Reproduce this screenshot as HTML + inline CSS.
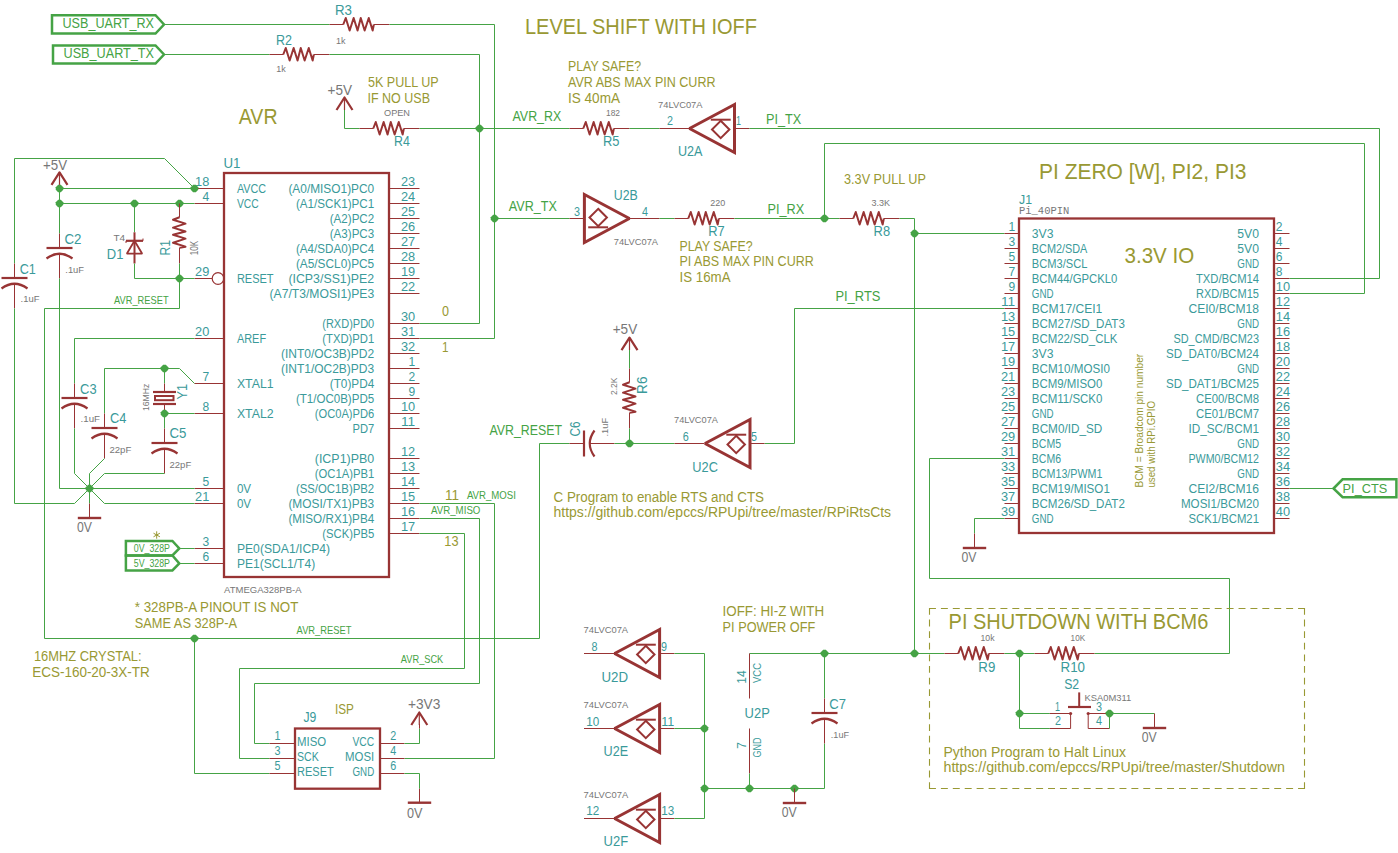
<!DOCTYPE html>
<html><head><meta charset="utf-8"><style>
html,body{margin:0;padding:0;background:#fff;overflow:hidden}
svg{display:block}
text{font-family:"Liberation Sans",sans-serif}
</style></head><body>
<svg width="1398" height="853" viewBox="0 0 1398 853">
<rect width="1398" height="853" fill="#fff"/>
<path d="M52,15.25 L155.5,15.25 L164,24.5 L155.5,33.5 L52,33.5 Z" stroke="#45a345" stroke-width="2.5" fill="none" stroke-linejoin="miter"/>
<path d="M53,45.5 L155.5,45.5 L164,54.5 L155.5,63.5 L53,63.5 Z" stroke="#45a345" stroke-width="2.5" fill="none" stroke-linejoin="miter"/>
<text x="62.50" y="28.00" font-size="14.53" fill="#45a345" textLength="91.50" lengthAdjust="spacingAndGlyphs">USB_UART_RX</text>
<text x="63.50" y="58.00" font-size="14.53" fill="#45a345" textLength="90.50" lengthAdjust="spacingAndGlyphs">USB_UART_TX</text>
<path d="M164,24.5 L329.5,24.5" stroke="#45a345" stroke-width="1.0" fill="none" stroke-linejoin="round"/>
<path d="M329.5,24.5 L343.5,24.5" stroke="#983434" stroke-width="1.0" fill="none" stroke-linejoin="round"/>
<path d="M343.25,24.5 L345.75,18.0 L349.65,30.5 L353.65,18.0 L357.55,30.5 L360.75,18.0 L364.65,30.5 L368.75,18.0 L372.65,30.5 L373.85,24.5" stroke="#983434" stroke-width="2" fill="none" stroke-linejoin="round"/>
<path d="M373.9,24.5 L389.5,24.5" stroke="#983434" stroke-width="1.0" fill="none" stroke-linejoin="round"/>
<path d="M389.5,24.5 L494.5,24.5 L494.5,338.5 L419.5,338.5" stroke="#45a345" stroke-width="1.0" fill="none" stroke-linejoin="round"/>
<path d="M164,54.5 L269.5,54.5" stroke="#45a345" stroke-width="1.0" fill="none" stroke-linejoin="round"/>
<path d="M269.5,54.5 L283.5,54.5" stroke="#983434" stroke-width="1.0" fill="none" stroke-linejoin="round"/>
<path d="M283.25,54.5 L285.75,48.0 L289.65,60.5 L293.65,48.0 L297.55,60.5 L300.75,48.0 L304.65,60.5 L308.75,48.0 L312.65,60.5 L313.85,54.5" stroke="#983434" stroke-width="2" fill="none" stroke-linejoin="round"/>
<path d="M313.9,54.5 L329.5,54.5" stroke="#983434" stroke-width="1.0" fill="none" stroke-linejoin="round"/>
<path d="M329.5,54.5 L479.5,54.5 L479.5,323.5 L419.5,323.5" stroke="#45a345" stroke-width="1.0" fill="none" stroke-linejoin="round"/>
<text x="335.00" y="15.00" font-size="14.53" fill="#3a9a9a" textLength="17.00" lengthAdjust="spacingAndGlyphs">R3</text>
<text x="336.00" y="43.50" font-size="9.88" fill="#777777" textLength="9.50" lengthAdjust="spacingAndGlyphs">1k</text>
<text x="276.00" y="44.75" font-size="14.53" fill="#3a9a9a" textLength="16.00" lengthAdjust="spacingAndGlyphs">R2</text>
<text x="276.25" y="72.00" font-size="9.88" fill="#777777" textLength="9.50" lengthAdjust="spacingAndGlyphs">1k</text>
<text x="238.75" y="123.75" font-size="22.53" fill="#999933" textLength="38.75" lengthAdjust="spacingAndGlyphs">AVR</text>
<text x="327.50" y="95.00" font-size="14.53" fill="#777777" textLength="24.50" lengthAdjust="spacingAndGlyphs">+5V</text>
<path d="M336.5,110.0 L344.5,97.5 L352.5,110.0" stroke="#983434" stroke-width="2.2" fill="none" stroke-linejoin="round"/>
<path d="M344.5,97.5 L344.5,110.0" stroke="#983434" stroke-width="1.2" fill="none" stroke-linejoin="round"/>
<path d="M344.5,110 L344.5,128.5 L359.5,128.5" stroke="#45a345" stroke-width="1.0" fill="none" stroke-linejoin="round"/>
<path d="M359.5,128.5 L373.5,128.5" stroke="#983434" stroke-width="1.0" fill="none" stroke-linejoin="round"/>
<path d="M373.25,128.5 L375.75,122.0 L379.65,134.5 L383.65,122.0 L387.55,134.5 L390.75,122.0 L394.65,134.5 L398.75,122.0 L402.65,134.5 L403.85,128.5" stroke="#983434" stroke-width="2" fill="none" stroke-linejoin="round"/>
<path d="M403.9,128.5 L419.5,128.5" stroke="#983434" stroke-width="1.0" fill="none" stroke-linejoin="round"/>
<path d="M419.5,128.5 L569.5,128.5" stroke="#45a345" stroke-width="1.0" fill="none" stroke-linejoin="round"/>
<path d="M478.15,124.75 L480.85,124.75 L483.25,127.15 L483.25,129.85 L480.85,132.25 L478.15,132.25 L475.75,129.85 L475.75,127.15 Z" fill="#45a345"/>
<text x="368.00" y="86.50" font-size="14.53" fill="#999933" textLength="70.75" lengthAdjust="spacingAndGlyphs">5K PULL UP</text>
<text x="367.50" y="102.50" font-size="14.53" fill="#999933" textLength="62.50" lengthAdjust="spacingAndGlyphs">IF NO USB</text>
<text x="384.00" y="115.50" font-size="9.88" fill="#777777" textLength="26.00" lengthAdjust="spacingAndGlyphs">OPEN</text>
<text x="394.00" y="146.25" font-size="14.53" fill="#3a9a9a" textLength="15.75" lengthAdjust="spacingAndGlyphs">R4</text>
<text x="512.50" y="121.25" font-size="14.53" fill="#45a345" textLength="48.75" lengthAdjust="spacingAndGlyphs">AVR_RX</text>
<path d="M569.5,128.5 L583.5,128.5" stroke="#983434" stroke-width="1.0" fill="none" stroke-linejoin="round"/>
<path d="M583.25,128.5 L585.75,122.0 L589.65,134.5 L593.65,122.0 L597.55,134.5 L600.75,122.0 L604.65,134.5 L608.75,122.0 L612.65,134.5 L613.85,128.5" stroke="#983434" stroke-width="2" fill="none" stroke-linejoin="round"/>
<path d="M613.9,128.5 L629.5,128.5" stroke="#983434" stroke-width="1.0" fill="none" stroke-linejoin="round"/>
<text x="606.00" y="115.50" font-size="9.88" fill="#777777" textLength="14.00" lengthAdjust="spacingAndGlyphs">182</text>
<text x="603.00" y="146.25" font-size="14.53" fill="#3a9a9a" textLength="16.50" lengthAdjust="spacingAndGlyphs">R5</text>
<text x="568.00" y="70.50" font-size="14.53" fill="#999933" textLength="73.00" lengthAdjust="spacingAndGlyphs">PLAY SAFE?</text>
<text x="568.00" y="86.50" font-size="14.53" fill="#999933" textLength="147.50" lengthAdjust="spacingAndGlyphs">AVR ABS MAX PIN CURR</text>
<text x="568.00" y="102.50" font-size="14.53" fill="#999933" textLength="52.00" lengthAdjust="spacingAndGlyphs">IS 40mA</text>
<text x="525.00" y="34.00" font-size="22.53" fill="#999933" textLength="232.00" lengthAdjust="spacingAndGlyphs">LEVEL SHIFT WITH IOFF</text>
<path d="M629.5,128.5 L659.5,128.5" stroke="#45a345" stroke-width="1.0" fill="none" stroke-linejoin="round"/>
<path d="M659.5,128.5 L689,128.5" stroke="#983434" stroke-width="1.0" fill="none" stroke-linejoin="round"/>
<path d="M734.5,104.5 L689.5,128.5 L734.5,152.5 Z" stroke="#983434" stroke-width="3" fill="none" stroke-linejoin="miter" stroke-miterlimit="2"/>
<path d="M720.7,120.8 L729.4000000000001,129.5 L720.7,138.2 L712.0,129.5 Z" stroke="#983434" stroke-width="2" fill="none"/>
<path d="M730.7,119.7 L710.8,119.7" stroke="#983434" stroke-width="2" fill="none" stroke-linejoin="round"/>
<path d="M720.7,120.8 L720.7,119.7" stroke="#983434" stroke-width="2" fill="none" stroke-linejoin="round"/>
<path d="M734.5,128.5 L749.5,128.5" stroke="#983434" stroke-width="1.0" fill="none" stroke-linejoin="round"/>
<path d="M749.5,128.5 L1379.5,128.5 L1379.5,278.5 L1289.5,278.5" stroke="#45a345" stroke-width="1.0" fill="none" stroke-linejoin="round"/>
<text x="667.00" y="125.00" font-size="13.08" fill="#3a9a9a" textLength="6.00" lengthAdjust="spacingAndGlyphs">2</text>
<text x="736.00" y="125.00" font-size="13.08" fill="#3a9a9a" textLength="5.00" lengthAdjust="spacingAndGlyphs">1</text>
<text x="658.00" y="108.00" font-size="9.88" fill="#777777" textLength="44.50" lengthAdjust="spacingAndGlyphs">74LVC07A</text>
<text x="678.00" y="156.00" font-size="14.10" fill="#3a9a9a" textLength="24.50" lengthAdjust="spacingAndGlyphs">U2A</text>
<text x="766.00" y="124.25" font-size="14.53" fill="#45a345" textLength="35.25" lengthAdjust="spacingAndGlyphs">PI_TX</text>
<path d="M824.5,218.5 L824.5,143.5 L1364.5,143.5 L1364.5,293.5 L1289.5,293.5" stroke="#45a345" stroke-width="1.0" fill="none" stroke-linejoin="round"/>
<path d="M494.5,218.5 L569.5,218.5" stroke="#45a345" stroke-width="1.0" fill="none" stroke-linejoin="round"/>
<path d="M493.15,214.75 L495.85,214.75 L498.25,217.15 L498.25,219.85 L495.85,222.25 L493.15,222.25 L490.75,219.85 L490.75,217.15 Z" fill="#45a345"/>
<path d="M569.5,218.5 L584.4,218.5" stroke="#983434" stroke-width="1.0" fill="none" stroke-linejoin="round"/>
<path d="M584.4,194.5 L629.4,218.5 L584.4,242.5 Z" stroke="#983434" stroke-width="3" fill="none" stroke-linejoin="miter" stroke-miterlimit="2"/>
<path d="M598.1999999999999,208.8 L606.9,217.5 L598.1999999999999,226.2 L589.4999999999999,217.5 Z" stroke="#983434" stroke-width="2" fill="none"/>
<path d="M588.1999999999999,227.3 L608.1,227.3" stroke="#983434" stroke-width="2" fill="none" stroke-linejoin="round"/>
<path d="M598.1999999999999,226.2 L598.1999999999999,227.3" stroke="#983434" stroke-width="2" fill="none" stroke-linejoin="round"/>
<path d="M630,218.5 L659.5,218.5" stroke="#983434" stroke-width="1.0" fill="none" stroke-linejoin="round"/>
<path d="M659.5,218.5 L674.5,218.5" stroke="#45a345" stroke-width="1.0" fill="none" stroke-linejoin="round"/>
<path d="M674.5,218.5 L688.5,218.5" stroke="#983434" stroke-width="1.0" fill="none" stroke-linejoin="round"/>
<path d="M688.25,218.5 L690.75,212.0 L694.65,224.5 L698.65,212.0 L702.55,224.5 L705.75,212.0 L709.65,224.5 L713.75,212.0 L717.65,224.5 L718.85,218.5" stroke="#983434" stroke-width="2" fill="none" stroke-linejoin="round"/>
<path d="M718.9,218.5 L734.5,218.5" stroke="#983434" stroke-width="1.0" fill="none" stroke-linejoin="round"/>
<path d="M734.5,218.5 L839.5,218.5" stroke="#45a345" stroke-width="1.0" fill="none" stroke-linejoin="round"/>
<path d="M823.15,214.75 L825.85,214.75 L828.25,217.15 L828.25,219.85 L825.85,222.25 L823.15,222.25 L820.75,219.85 L820.75,217.15 Z" fill="#45a345"/>
<path d="M839.5,218.5 L853.5,218.5" stroke="#983434" stroke-width="1.0" fill="none" stroke-linejoin="round"/>
<path d="M853.25,218.5 L855.75,212.0 L859.65,224.5 L863.65,212.0 L867.55,224.5 L870.75,212.0 L874.65,224.5 L878.75,212.0 L882.65,224.5 L883.85,218.5" stroke="#983434" stroke-width="2" fill="none" stroke-linejoin="round"/>
<path d="M883.9,218.5 L899.5,218.5" stroke="#983434" stroke-width="1.0" fill="none" stroke-linejoin="round"/>
<path d="M899.5,218.5 L914.5,218.5 L914.5,653.5" stroke="#45a345" stroke-width="1.0" fill="none" stroke-linejoin="round"/>
<path d="M913.15,229.75 L915.85,229.75 L918.25,232.15 L918.25,234.85 L915.85,237.25 L913.15,237.25 L910.75,234.85 L910.75,232.15 Z" fill="#45a345"/>
<path d="M914.5,233.5 L1004.5,233.5" stroke="#45a345" stroke-width="1.0" fill="none" stroke-linejoin="round"/>
<text x="574.10" y="215.90" font-size="13.08" fill="#3a9a9a" textLength="6.00" lengthAdjust="spacingAndGlyphs">3</text>
<text x="642.00" y="215.90" font-size="13.08" fill="#3a9a9a" textLength="6.00" lengthAdjust="spacingAndGlyphs">4</text>
<text x="613.80" y="199.90" font-size="14.10" fill="#3a9a9a" textLength="24.00" lengthAdjust="spacingAndGlyphs">U2B</text>
<text x="613.80" y="244.80" font-size="9.88" fill="#777777" textLength="44.20" lengthAdjust="spacingAndGlyphs">74LVC07A</text>
<text x="508.80" y="210.80" font-size="14.53" fill="#45a345" textLength="48.00" lengthAdjust="spacingAndGlyphs">AVR_TX</text>
<text x="710.30" y="206.00" font-size="9.88" fill="#777777" textLength="15.00" lengthAdjust="spacingAndGlyphs">220</text>
<text x="708.30" y="236.40" font-size="14.10" fill="#3a9a9a" textLength="16.50" lengthAdjust="spacingAndGlyphs">R7</text>
<text x="767.40" y="213.80" font-size="14.53" fill="#45a345" textLength="36.80" lengthAdjust="spacingAndGlyphs">PI_RX</text>
<text x="679.50" y="250.60" font-size="14.53" fill="#999933" textLength="73.00" lengthAdjust="spacingAndGlyphs">PLAY SAFE?</text>
<text x="679.50" y="266.40" font-size="14.53" fill="#999933" textLength="134.30" lengthAdjust="spacingAndGlyphs">PI ABS MAX PIN CURR</text>
<text x="679.50" y="282.20" font-size="14.53" fill="#999933" textLength="51.00" lengthAdjust="spacingAndGlyphs">IS 16mA</text>
<text x="844.00" y="184.30" font-size="14.53" fill="#999933" textLength="82.00" lengthAdjust="spacingAndGlyphs">3.3V PULL UP</text>
<text x="871.50" y="206.00" font-size="9.88" fill="#777777" textLength="18.60" lengthAdjust="spacingAndGlyphs">3.3K</text>
<text x="873.60" y="236.30" font-size="14.10" fill="#3a9a9a" textLength="16.50" lengthAdjust="spacingAndGlyphs">R8</text>
<path d="M764.5,443.5 L794.5,443.5 L794.5,308.5 L1004.5,308.5" stroke="#45a345" stroke-width="1.0" fill="none" stroke-linejoin="round"/>
<text x="835.40" y="301.30" font-size="14.53" fill="#45a345" textLength="45.00" lengthAdjust="spacingAndGlyphs">PI_RTS</text>
<rect x="1019" y="218.5" width="255" height="314.5" stroke="#983434" stroke-width="2.3" fill="none"/>
<path d="M1004.5,233.5 L1019,233.5" stroke="#983434" stroke-width="1.0" fill="none" stroke-linejoin="round"/>
<path d="M1274,233.5 L1289.5,233.5" stroke="#983434" stroke-width="1.0" fill="none" stroke-linejoin="round"/>
<text x="1008.50" y="230.90" font-size="13.08" fill="#3a9a9a" textLength="6.70" lengthAdjust="spacingAndGlyphs">1</text>
<text x="1275.80" y="230.90" font-size="13.08" fill="#3a9a9a" textLength="6.70" lengthAdjust="spacingAndGlyphs">2</text>
<text x="1031.80" y="237.90" font-size="13.08" fill="#3a9a9a" textLength="21.70" lengthAdjust="spacingAndGlyphs">3V3</text>
<text x="1237.30" y="237.90" font-size="13.08" fill="#3a9a9a" textLength="21.70" lengthAdjust="spacingAndGlyphs">5V0</text>
<path d="M1004.5,248.5 L1019,248.5" stroke="#983434" stroke-width="1.0" fill="none" stroke-linejoin="round"/>
<path d="M1274,248.5 L1289.5,248.5" stroke="#983434" stroke-width="1.0" fill="none" stroke-linejoin="round"/>
<text x="1008.50" y="245.90" font-size="13.08" fill="#3a9a9a" textLength="6.70" lengthAdjust="spacingAndGlyphs">3</text>
<text x="1275.80" y="245.90" font-size="13.08" fill="#3a9a9a" textLength="6.70" lengthAdjust="spacingAndGlyphs">4</text>
<text x="1031.80" y="252.90" font-size="13.08" fill="#3a9a9a" textLength="55.56" lengthAdjust="spacingAndGlyphs">BCM2/SDA</text>
<text x="1237.30" y="252.90" font-size="13.08" fill="#3a9a9a" textLength="21.70" lengthAdjust="spacingAndGlyphs">5V0</text>
<path d="M1004.5,263.5 L1019,263.5" stroke="#983434" stroke-width="1.0" fill="none" stroke-linejoin="round"/>
<path d="M1274,263.5 L1289.5,263.5" stroke="#983434" stroke-width="1.0" fill="none" stroke-linejoin="round"/>
<text x="1008.50" y="260.90" font-size="13.08" fill="#3a9a9a" textLength="6.70" lengthAdjust="spacingAndGlyphs">5</text>
<text x="1275.80" y="260.90" font-size="13.08" fill="#3a9a9a" textLength="6.70" lengthAdjust="spacingAndGlyphs">6</text>
<text x="1031.80" y="267.90" font-size="13.08" fill="#3a9a9a" textLength="55.56" lengthAdjust="spacingAndGlyphs">BCM3/SCL</text>
<text x="1237.30" y="267.90" font-size="13.08" fill="#3a9a9a" textLength="21.70" lengthAdjust="spacingAndGlyphs">GND</text>
<path d="M1004.5,278.5 L1019,278.5" stroke="#983434" stroke-width="1.0" fill="none" stroke-linejoin="round"/>
<path d="M1274,278.5 L1289.5,278.5" stroke="#983434" stroke-width="1.0" fill="none" stroke-linejoin="round"/>
<text x="1008.50" y="275.90" font-size="13.08" fill="#3a9a9a" textLength="6.70" lengthAdjust="spacingAndGlyphs">7</text>
<text x="1275.80" y="275.90" font-size="13.08" fill="#3a9a9a" textLength="6.70" lengthAdjust="spacingAndGlyphs">8</text>
<text x="1031.80" y="282.90" font-size="13.08" fill="#3a9a9a" textLength="85.55" lengthAdjust="spacingAndGlyphs">BCM44/GPCKL0</text>
<text x="1195.94" y="282.90" font-size="13.08" fill="#3a9a9a" textLength="63.06" lengthAdjust="spacingAndGlyphs">TXD/BCM14</text>
<path d="M1004.5,293.5 L1019,293.5" stroke="#983434" stroke-width="1.0" fill="none" stroke-linejoin="round"/>
<path d="M1274,293.5 L1289.5,293.5" stroke="#983434" stroke-width="1.0" fill="none" stroke-linejoin="round"/>
<text x="1008.50" y="290.90" font-size="13.08" fill="#3a9a9a" textLength="6.70" lengthAdjust="spacingAndGlyphs">9</text>
<text x="1275.80" y="290.90" font-size="13.08" fill="#3a9a9a" textLength="14.20" lengthAdjust="spacingAndGlyphs">10</text>
<text x="1031.80" y="297.90" font-size="13.08" fill="#3a9a9a" textLength="21.70" lengthAdjust="spacingAndGlyphs">GND</text>
<text x="1195.94" y="297.90" font-size="13.08" fill="#3a9a9a" textLength="63.06" lengthAdjust="spacingAndGlyphs">RXD/BCM15</text>
<path d="M1004.5,308.5 L1019,308.5" stroke="#983434" stroke-width="1.0" fill="none" stroke-linejoin="round"/>
<path d="M1274,308.5 L1289.5,308.5" stroke="#983434" stroke-width="1.0" fill="none" stroke-linejoin="round"/>
<text x="1001.00" y="305.90" font-size="13.08" fill="#3a9a9a" textLength="14.20" lengthAdjust="spacingAndGlyphs">11</text>
<text x="1275.80" y="305.90" font-size="13.08" fill="#3a9a9a" textLength="14.20" lengthAdjust="spacingAndGlyphs">12</text>
<text x="1031.80" y="312.90" font-size="13.08" fill="#3a9a9a" textLength="70.55" lengthAdjust="spacingAndGlyphs">BCM17/CEI1</text>
<text x="1188.45" y="312.90" font-size="13.08" fill="#3a9a9a" textLength="70.55" lengthAdjust="spacingAndGlyphs">CEI0/BCM18</text>
<path d="M1004.5,323.5 L1019,323.5" stroke="#983434" stroke-width="1.0" fill="none" stroke-linejoin="round"/>
<path d="M1274,323.5 L1289.5,323.5" stroke="#983434" stroke-width="1.0" fill="none" stroke-linejoin="round"/>
<text x="1001.00" y="320.90" font-size="13.08" fill="#3a9a9a" textLength="14.20" lengthAdjust="spacingAndGlyphs">13</text>
<text x="1275.80" y="320.90" font-size="13.08" fill="#3a9a9a" textLength="14.20" lengthAdjust="spacingAndGlyphs">14</text>
<text x="1031.80" y="327.90" font-size="13.08" fill="#3a9a9a" textLength="93.05" lengthAdjust="spacingAndGlyphs">BCM27/SD_DAT3</text>
<text x="1237.30" y="327.90" font-size="13.08" fill="#3a9a9a" textLength="21.70" lengthAdjust="spacingAndGlyphs">GND</text>
<path d="M1004.5,338.5 L1019,338.5" stroke="#983434" stroke-width="1.0" fill="none" stroke-linejoin="round"/>
<path d="M1274,338.5 L1289.5,338.5" stroke="#983434" stroke-width="1.0" fill="none" stroke-linejoin="round"/>
<text x="1001.00" y="335.90" font-size="13.08" fill="#3a9a9a" textLength="14.20" lengthAdjust="spacingAndGlyphs">15</text>
<text x="1275.80" y="335.90" font-size="13.08" fill="#3a9a9a" textLength="14.20" lengthAdjust="spacingAndGlyphs">16</text>
<text x="1031.80" y="342.90" font-size="13.08" fill="#3a9a9a" textLength="85.55" lengthAdjust="spacingAndGlyphs">BCM22/SD_CLK</text>
<text x="1173.45" y="342.90" font-size="13.08" fill="#3a9a9a" textLength="85.55" lengthAdjust="spacingAndGlyphs">SD_CMD/BCM23</text>
<path d="M1004.5,353.5 L1019,353.5" stroke="#983434" stroke-width="1.0" fill="none" stroke-linejoin="round"/>
<path d="M1274,353.5 L1289.5,353.5" stroke="#983434" stroke-width="1.0" fill="none" stroke-linejoin="round"/>
<text x="1001.00" y="350.90" font-size="13.08" fill="#3a9a9a" textLength="14.20" lengthAdjust="spacingAndGlyphs">17</text>
<text x="1275.80" y="350.90" font-size="13.08" fill="#3a9a9a" textLength="14.20" lengthAdjust="spacingAndGlyphs">18</text>
<text x="1031.80" y="357.90" font-size="13.08" fill="#3a9a9a" textLength="21.70" lengthAdjust="spacingAndGlyphs">3V3</text>
<text x="1165.95" y="357.90" font-size="13.08" fill="#3a9a9a" textLength="93.05" lengthAdjust="spacingAndGlyphs">SD_DAT0/BCM24</text>
<path d="M1004.5,368.5 L1019,368.5" stroke="#983434" stroke-width="1.0" fill="none" stroke-linejoin="round"/>
<path d="M1274,368.5 L1289.5,368.5" stroke="#983434" stroke-width="1.0" fill="none" stroke-linejoin="round"/>
<text x="1001.00" y="365.90" font-size="13.08" fill="#3a9a9a" textLength="14.20" lengthAdjust="spacingAndGlyphs">19</text>
<text x="1275.80" y="365.90" font-size="13.08" fill="#3a9a9a" textLength="14.20" lengthAdjust="spacingAndGlyphs">20</text>
<text x="1031.80" y="372.90" font-size="13.08" fill="#3a9a9a" textLength="78.05" lengthAdjust="spacingAndGlyphs">BCM10/MOSI0</text>
<text x="1237.30" y="372.90" font-size="13.08" fill="#3a9a9a" textLength="21.70" lengthAdjust="spacingAndGlyphs">GND</text>
<path d="M1004.5,383.5 L1019,383.5" stroke="#983434" stroke-width="1.0" fill="none" stroke-linejoin="round"/>
<path d="M1274,383.5 L1289.5,383.5" stroke="#983434" stroke-width="1.0" fill="none" stroke-linejoin="round"/>
<text x="1001.00" y="380.90" font-size="13.08" fill="#3a9a9a" textLength="14.20" lengthAdjust="spacingAndGlyphs">21</text>
<text x="1275.80" y="380.90" font-size="13.08" fill="#3a9a9a" textLength="14.20" lengthAdjust="spacingAndGlyphs">22</text>
<text x="1031.80" y="387.90" font-size="13.08" fill="#3a9a9a" textLength="70.55" lengthAdjust="spacingAndGlyphs">BCM9/MISO0</text>
<text x="1165.95" y="387.90" font-size="13.08" fill="#3a9a9a" textLength="93.05" lengthAdjust="spacingAndGlyphs">SD_DAT1/BCM25</text>
<path d="M1004.5,398.5 L1019,398.5" stroke="#983434" stroke-width="1.0" fill="none" stroke-linejoin="round"/>
<path d="M1274,398.5 L1289.5,398.5" stroke="#983434" stroke-width="1.0" fill="none" stroke-linejoin="round"/>
<text x="1001.00" y="395.90" font-size="13.08" fill="#3a9a9a" textLength="14.20" lengthAdjust="spacingAndGlyphs">23</text>
<text x="1275.80" y="395.90" font-size="13.08" fill="#3a9a9a" textLength="14.20" lengthAdjust="spacingAndGlyphs">24</text>
<text x="1031.80" y="402.90" font-size="13.08" fill="#3a9a9a" textLength="70.55" lengthAdjust="spacingAndGlyphs">BCM11/SCK0</text>
<text x="1195.94" y="402.90" font-size="13.08" fill="#3a9a9a" textLength="63.06" lengthAdjust="spacingAndGlyphs">CE00/BCM8</text>
<path d="M1004.5,413.5 L1019,413.5" stroke="#983434" stroke-width="1.0" fill="none" stroke-linejoin="round"/>
<path d="M1274,413.5 L1289.5,413.5" stroke="#983434" stroke-width="1.0" fill="none" stroke-linejoin="round"/>
<text x="1001.00" y="410.90" font-size="13.08" fill="#3a9a9a" textLength="14.20" lengthAdjust="spacingAndGlyphs">25</text>
<text x="1275.80" y="410.90" font-size="13.08" fill="#3a9a9a" textLength="14.20" lengthAdjust="spacingAndGlyphs">26</text>
<text x="1031.80" y="417.90" font-size="13.08" fill="#3a9a9a" textLength="21.70" lengthAdjust="spacingAndGlyphs">GND</text>
<text x="1195.94" y="417.90" font-size="13.08" fill="#3a9a9a" textLength="63.06" lengthAdjust="spacingAndGlyphs">CE01/BCM7</text>
<path d="M1004.5,428.5 L1019,428.5" stroke="#983434" stroke-width="1.0" fill="none" stroke-linejoin="round"/>
<path d="M1274,428.5 L1289.5,428.5" stroke="#983434" stroke-width="1.0" fill="none" stroke-linejoin="round"/>
<text x="1001.00" y="425.90" font-size="13.08" fill="#3a9a9a" textLength="14.20" lengthAdjust="spacingAndGlyphs">27</text>
<text x="1275.80" y="425.90" font-size="13.08" fill="#3a9a9a" textLength="14.20" lengthAdjust="spacingAndGlyphs">28</text>
<text x="1031.80" y="432.90" font-size="13.08" fill="#3a9a9a" textLength="70.55" lengthAdjust="spacingAndGlyphs">BCM0/ID_SD</text>
<text x="1188.45" y="432.90" font-size="13.08" fill="#3a9a9a" textLength="70.55" lengthAdjust="spacingAndGlyphs">ID_SC/BCM1</text>
<path d="M1004.5,443.5 L1019,443.5" stroke="#983434" stroke-width="1.0" fill="none" stroke-linejoin="round"/>
<path d="M1274,443.5 L1289.5,443.5" stroke="#983434" stroke-width="1.0" fill="none" stroke-linejoin="round"/>
<text x="1001.00" y="440.90" font-size="13.08" fill="#3a9a9a" textLength="14.20" lengthAdjust="spacingAndGlyphs">29</text>
<text x="1275.80" y="440.90" font-size="13.08" fill="#3a9a9a" textLength="14.20" lengthAdjust="spacingAndGlyphs">30</text>
<text x="1031.80" y="447.90" font-size="13.08" fill="#3a9a9a" textLength="29.20" lengthAdjust="spacingAndGlyphs">BCM5</text>
<text x="1237.30" y="447.90" font-size="13.08" fill="#3a9a9a" textLength="21.70" lengthAdjust="spacingAndGlyphs">GND</text>
<path d="M1004.5,458.5 L1019,458.5" stroke="#983434" stroke-width="1.0" fill="none" stroke-linejoin="round"/>
<path d="M1274,458.5 L1289.5,458.5" stroke="#983434" stroke-width="1.0" fill="none" stroke-linejoin="round"/>
<text x="1001.00" y="455.90" font-size="13.08" fill="#3a9a9a" textLength="14.20" lengthAdjust="spacingAndGlyphs">31</text>
<text x="1275.80" y="455.90" font-size="13.08" fill="#3a9a9a" textLength="14.20" lengthAdjust="spacingAndGlyphs">32</text>
<text x="1031.80" y="462.90" font-size="13.08" fill="#3a9a9a" textLength="29.20" lengthAdjust="spacingAndGlyphs">BCM6</text>
<text x="1188.45" y="462.90" font-size="13.08" fill="#3a9a9a" textLength="70.55" lengthAdjust="spacingAndGlyphs">PWM0/BCM12</text>
<path d="M1004.5,473.5 L1019,473.5" stroke="#983434" stroke-width="1.0" fill="none" stroke-linejoin="round"/>
<path d="M1274,473.5 L1289.5,473.5" stroke="#983434" stroke-width="1.0" fill="none" stroke-linejoin="round"/>
<text x="1001.00" y="470.90" font-size="13.08" fill="#3a9a9a" textLength="14.20" lengthAdjust="spacingAndGlyphs">33</text>
<text x="1275.80" y="470.90" font-size="13.08" fill="#3a9a9a" textLength="14.20" lengthAdjust="spacingAndGlyphs">34</text>
<text x="1031.80" y="477.90" font-size="13.08" fill="#3a9a9a" textLength="70.55" lengthAdjust="spacingAndGlyphs">BCM13/PWM1</text>
<text x="1237.30" y="477.90" font-size="13.08" fill="#3a9a9a" textLength="21.70" lengthAdjust="spacingAndGlyphs">GND</text>
<path d="M1004.5,488.5 L1019,488.5" stroke="#983434" stroke-width="1.0" fill="none" stroke-linejoin="round"/>
<path d="M1274,488.5 L1289.5,488.5" stroke="#983434" stroke-width="1.0" fill="none" stroke-linejoin="round"/>
<text x="1001.00" y="485.90" font-size="13.08" fill="#3a9a9a" textLength="14.20" lengthAdjust="spacingAndGlyphs">35</text>
<text x="1275.80" y="485.90" font-size="13.08" fill="#3a9a9a" textLength="14.20" lengthAdjust="spacingAndGlyphs">36</text>
<text x="1031.80" y="492.90" font-size="13.08" fill="#3a9a9a" textLength="78.05" lengthAdjust="spacingAndGlyphs">BCM19/MISO1</text>
<text x="1188.45" y="492.90" font-size="13.08" fill="#3a9a9a" textLength="70.55" lengthAdjust="spacingAndGlyphs">CEI2/BCM16</text>
<path d="M1004.5,503.5 L1019,503.5" stroke="#983434" stroke-width="1.0" fill="none" stroke-linejoin="round"/>
<path d="M1274,503.5 L1289.5,503.5" stroke="#983434" stroke-width="1.0" fill="none" stroke-linejoin="round"/>
<text x="1001.00" y="500.90" font-size="13.08" fill="#3a9a9a" textLength="14.20" lengthAdjust="spacingAndGlyphs">37</text>
<text x="1275.80" y="500.90" font-size="13.08" fill="#3a9a9a" textLength="14.20" lengthAdjust="spacingAndGlyphs">38</text>
<text x="1031.80" y="507.90" font-size="13.08" fill="#3a9a9a" textLength="93.05" lengthAdjust="spacingAndGlyphs">BCM26/SD_DAT2</text>
<text x="1180.95" y="507.90" font-size="13.08" fill="#3a9a9a" textLength="78.05" lengthAdjust="spacingAndGlyphs">MOSI1/BCM20</text>
<path d="M1004.5,518.5 L1019,518.5" stroke="#983434" stroke-width="1.0" fill="none" stroke-linejoin="round"/>
<path d="M1274,518.5 L1289.5,518.5" stroke="#983434" stroke-width="1.0" fill="none" stroke-linejoin="round"/>
<text x="1001.00" y="515.90" font-size="13.08" fill="#3a9a9a" textLength="14.20" lengthAdjust="spacingAndGlyphs">39</text>
<text x="1275.80" y="515.90" font-size="13.08" fill="#3a9a9a" textLength="14.20" lengthAdjust="spacingAndGlyphs">40</text>
<text x="1031.80" y="522.90" font-size="13.08" fill="#3a9a9a" textLength="21.70" lengthAdjust="spacingAndGlyphs">GND</text>
<text x="1188.45" y="522.90" font-size="13.08" fill="#3a9a9a" textLength="70.55" lengthAdjust="spacingAndGlyphs">SCK1/BCM21</text>
<text x="1019.00" y="204.00" font-size="12.79" fill="#3a9a9a" textLength="13.00" lengthAdjust="spacingAndGlyphs">J1</text>
<text x="1019" y="214.4" style="font-family:Liberation Mono,monospace" font-size="10.5" fill="#777777" textLength="50.3" lengthAdjust="spacingAndGlyphs">Pi_40PIN</text>
<text x="1039.00" y="178.60" font-size="22.53" fill="#999933" textLength="207.40" lengthAdjust="spacingAndGlyphs">PI ZERO [W], PI2, PI3</text>
<text x="1124.50" y="262.60" font-size="21.80" fill="#999933" textLength="69.70" lengthAdjust="spacingAndGlyphs">3.3V IO</text>
<text x="0" y="0" transform="translate(1143.30,487.60) rotate(-90)" font-size="10.90" fill="#999933" textLength="133.80" lengthAdjust="spacingAndGlyphs">BCM = Broadcom pin number</text>
<text x="0" y="0" transform="translate(1154.50,487.60) rotate(-90)" font-size="10.90" fill="#999933" textLength="86.60" lengthAdjust="spacingAndGlyphs">used with RPi.GPIO</text>
<path d="M1289.5,488.5 L1333.5,488.5" stroke="#45a345" stroke-width="1.0" fill="none" stroke-linejoin="round"/>
<path d="M1333.5,488.5 L1342.6,479.25 L1396.4,479.25 L1396.4,497.25 L1342.6,497.25 Z" stroke="#45a345" stroke-width="2.5" fill="none" stroke-linejoin="miter"/>
<text x="1342.60" y="492.80" font-size="13.08" fill="#45a345" textLength="44.60" lengthAdjust="spacingAndGlyphs">PI_CTS</text>
<path d="M1004.5,458.5 L929.5,458.5 L929.5,578.5 L1229.5,578.5 L1229.5,653.5 L1094.5,653.5" stroke="#45a345" stroke-width="1.0" fill="none" stroke-linejoin="round"/>
<path d="M1004.5,518.5 L974.5,518.5 L974.5,533.5" stroke="#45a345" stroke-width="1.0" fill="none" stroke-linejoin="round"/>
<path d="M974.5,533.5 L974.5,548" stroke="#983434" stroke-width="1.0" fill="none" stroke-linejoin="round"/>
<path d="M962.8,548 L986.2,548" stroke="#983434" stroke-width="2.4" fill="none" stroke-linejoin="round"/>
<text x="961.50" y="561.60" font-size="14.10" fill="#777777" textLength="15.00" lengthAdjust="spacingAndGlyphs">0V</text>
<path d="M929,608.5 L1305,608.5" stroke="#999933" stroke-width="1.1" fill="none" stroke-dasharray="6.945 4.960" stroke-linecap="butt"/>
<path d="M929,788.5 L1305,788.5" stroke="#999933" stroke-width="1.1" fill="none" stroke-dasharray="6.945 4.960" stroke-linecap="butt"/>
<path d="M929.5,608 L929.5,789" stroke="#999933" stroke-width="1.1" fill="none" stroke-dasharray="6.775 4.840" stroke-linecap="butt"/>
<path d="M1304.5,608 L1304.5,789" stroke="#999933" stroke-width="1.1" fill="none" stroke-dasharray="6.775 4.840" stroke-linecap="butt"/>
<text x="948.60" y="628.60" font-size="22.53" fill="#999933" textLength="259.80" lengthAdjust="spacingAndGlyphs">PI SHUTDOWN WITH BCM6</text>
<path d="M749.5,653.5 L944.5,653.5" stroke="#45a345" stroke-width="1.0" fill="none" stroke-linejoin="round"/>
<path d="M823.15,649.75 L825.85,649.75 L828.25,652.15 L828.25,654.85 L825.85,657.25 L823.15,657.25 L820.75,654.85 L820.75,652.15 Z" fill="#45a345"/>
<path d="M913.15,649.75 L915.85,649.75 L918.25,652.15 L918.25,654.85 L915.85,657.25 L913.15,657.25 L910.75,654.85 L910.75,652.15 Z" fill="#45a345"/>
<path d="M944.5,653.5 L958.5,653.5" stroke="#983434" stroke-width="1.0" fill="none" stroke-linejoin="round"/>
<path d="M958.25,653.5 L960.75,647.0 L964.65,659.5 L968.65,647.0 L972.55,659.5 L975.75,647.0 L979.65,659.5 L983.75,647.0 L987.65,659.5 L988.85,653.5" stroke="#983434" stroke-width="2" fill="none" stroke-linejoin="round"/>
<path d="M988.9,653.5 L1004.5,653.5" stroke="#983434" stroke-width="1.0" fill="none" stroke-linejoin="round"/>
<path d="M1004.5,653.5 L1034.5,653.5" stroke="#45a345" stroke-width="1.0" fill="none" stroke-linejoin="round"/>
<path d="M1018.15,649.75 L1020.85,649.75 L1023.25,652.15 L1023.25,654.85 L1020.85,657.25 L1018.15,657.25 L1015.75,654.85 L1015.75,652.15 Z" fill="#45a345"/>
<path d="M1034.5,653.5 L1048.5,653.5" stroke="#983434" stroke-width="1.0" fill="none" stroke-linejoin="round"/>
<path d="M1048.25,653.5 L1050.75,647.0 L1054.65,659.5 L1058.65,647.0 L1062.55,659.5 L1065.75,647.0 L1069.65,659.5 L1073.75,647.0 L1077.65,659.5 L1078.85,653.5" stroke="#983434" stroke-width="2" fill="none" stroke-linejoin="round"/>
<path d="M1078.9,653.5 L1094.5,653.5" stroke="#983434" stroke-width="1.0" fill="none" stroke-linejoin="round"/>
<path d="M1019.5,653.5 L1019.5,728.5 L1049.8,728.5" stroke="#45a345" stroke-width="1.0" fill="none" stroke-linejoin="round"/>
<path d="M1019.5,713.5 L1049.8,713.5" stroke="#45a345" stroke-width="1.0" fill="none" stroke-linejoin="round"/>
<path d="M1018.15,709.75 L1020.85,709.75 L1023.25,712.15 L1023.25,714.85 L1020.85,717.25 L1018.15,717.25 L1015.75,714.85 L1015.75,712.15 Z" fill="#45a345"/>
<path d="M1049.8,728.5 L1070.6,728.5 L1070.6,713.5" stroke="#983434" stroke-width="1.0" fill="none" stroke-linejoin="round"/>
<path d="M1049.8,713.5 L1070.6,713.5" stroke="#983434" stroke-width="1.0" fill="none" stroke-linejoin="round"/>
<circle cx="1070.6" cy="713.5" r="1.6" fill="#983434"/>
<path d="M1068,707 L1091,707" stroke="#983434" stroke-width="2.2" fill="none" stroke-linejoin="round"/>
<path d="M1079.2,707 L1079.2,692.4" stroke="#983434" stroke-width="2" fill="none" stroke-linejoin="round"/>
<circle cx="1088.2" cy="713.5" r="1.6" fill="#983434"/>
<path d="M1088.2,713.5 L1088.2,728.5 L1109.5,728.5" stroke="#983434" stroke-width="1.0" fill="none" stroke-linejoin="round"/>
<path d="M1088.2,713.5 L1109.5,713.5" stroke="#983434" stroke-width="1.0" fill="none" stroke-linejoin="round"/>
<path d="M1109.5,713.5 L1109.5,728.5" stroke="#45a345" stroke-width="1.0" fill="none" stroke-linejoin="round"/>
<path d="M1108.15,709.75 L1110.85,709.75 L1113.25,712.15 L1113.25,714.85 L1110.85,717.25 L1108.15,717.25 L1105.75,714.85 L1105.75,712.15 Z" fill="#45a345"/>
<path d="M1109.5,713.5 L1154.5,713.5" stroke="#45a345" stroke-width="1.0" fill="none" stroke-linejoin="round"/>
<path d="M1154.5,713.5 L1154.5,728" stroke="#983434" stroke-width="1.0" fill="none" stroke-linejoin="round"/>
<path d="M1142.8,728 L1166.2,728" stroke="#983434" stroke-width="2.4" fill="none" stroke-linejoin="round"/>
<text x="1141.80" y="742.00" font-size="14.10" fill="#777777" textLength="15.00" lengthAdjust="spacingAndGlyphs">0V</text>
<text x="980.50" y="641.00" font-size="9.88" fill="#777777" textLength="14.00" lengthAdjust="spacingAndGlyphs">10k</text>
<text x="1070.60" y="641.00" font-size="9.88" fill="#777777" textLength="14.50" lengthAdjust="spacingAndGlyphs">10K</text>
<text x="978.30" y="671.50" font-size="14.10" fill="#3a9a9a" textLength="17.00" lengthAdjust="spacingAndGlyphs">R9</text>
<text x="1060.50" y="671.50" font-size="14.10" fill="#3a9a9a" textLength="24.50" lengthAdjust="spacingAndGlyphs">R10</text>
<text x="1064.20" y="689.10" font-size="14.10" fill="#3a9a9a" textLength="15.00" lengthAdjust="spacingAndGlyphs">S2</text>
<text x="1084.50" y="700.70" font-size="9.88" fill="#777777" textLength="46.80" lengthAdjust="spacingAndGlyphs">KSA0M311</text>
<text x="1055.00" y="710.60" font-size="13.08" fill="#3a9a9a" textLength="5.00" lengthAdjust="spacingAndGlyphs">1</text>
<text x="1055.00" y="725.20" font-size="13.08" fill="#3a9a9a" textLength="6.00" lengthAdjust="spacingAndGlyphs">2</text>
<text x="1096.00" y="710.60" font-size="13.08" fill="#3a9a9a" textLength="6.00" lengthAdjust="spacingAndGlyphs">3</text>
<text x="1096.00" y="725.20" font-size="13.08" fill="#3a9a9a" textLength="6.00" lengthAdjust="spacingAndGlyphs">4</text>
<text x="943.50" y="756.80" font-size="13.81" fill="#999933" textLength="182.50" lengthAdjust="spacingAndGlyphs">Python Program to Halt Linux</text>
<text x="943.50" y="772.20" font-size="13.81" fill="#999933" textLength="341.30" lengthAdjust="spacingAndGlyphs">https://github.com/epccs/RPUpi/tree/master/Shutdown</text>
<path d="M194.5,638.5 L539.5,638.5 L539.5,443.5 L569.5,443.5" stroke="#45a345" stroke-width="1.0" fill="none" stroke-linejoin="round"/>
<path d="M569.5,443.5 L584.0,443.5" stroke="#983434" stroke-width="1.0" fill="none" stroke-linejoin="round"/>
<path d="M584.0,430.5 L584.0,456.5" stroke="#983434" stroke-width="2.2" fill="none" stroke-linejoin="round"/>
<path d="M594.5,430.5 Q585.0,443.5 594.5,456.5" stroke="#983434" stroke-width="2.2" fill="none"/>
<path d="M589.0,443.5 L614.5,443.5" stroke="#983434" stroke-width="1.0" fill="none" stroke-linejoin="round"/>
<path d="M614.5,443.5 L674.5,443.5" stroke="#45a345" stroke-width="1.0" fill="none" stroke-linejoin="round"/>
<path d="M628.15,439.75 L630.85,439.75 L633.25,442.15 L633.25,444.85 L630.85,447.25 L628.15,447.25 L625.75,444.85 L625.75,442.15 Z" fill="#45a345"/>
<path d="M674.5,443.5 L704,443.5" stroke="#983434" stroke-width="1.0" fill="none" stroke-linejoin="round"/>
<path d="M750,419.5 L705,443.5 L750,467.5 Z" stroke="#983434" stroke-width="3" fill="none" stroke-linejoin="miter" stroke-miterlimit="2"/>
<path d="M736.2,435.8 L744.9000000000001,444.5 L736.2,453.2 L727.5,444.5 Z" stroke="#983434" stroke-width="2" fill="none"/>
<path d="M746.2,434.7 L726.3,434.7" stroke="#983434" stroke-width="2" fill="none" stroke-linejoin="round"/>
<path d="M736.2,435.8 L736.2,434.7" stroke="#983434" stroke-width="2" fill="none" stroke-linejoin="round"/>
<path d="M750,443.5 L764.5,443.5" stroke="#983434" stroke-width="1.0" fill="none" stroke-linejoin="round"/>
<path d="M621.5,350.1 L629.5,337.6 L637.5,350.1" stroke="#983434" stroke-width="2.2" fill="none" stroke-linejoin="round"/>
<path d="M629.5,337.6 L629.5,350.1" stroke="#983434" stroke-width="1.2" fill="none" stroke-linejoin="round"/>
<path d="M629.5,350 L629.5,368.5" stroke="#45a345" stroke-width="1.0" fill="none" stroke-linejoin="round"/>
<path d="M629.5,368.5 L629.5,382.5" stroke="#983434" stroke-width="1.0" fill="none" stroke-linejoin="round"/>
<path d="M629.5,382.25 L623.0,384.75 L635.5,388.65 L623.0,392.65 L635.5,396.55 L623.0,399.75 L635.5,403.65 L623.0,407.75 L635.5,411.65 L629.5,412.85" stroke="#983434" stroke-width="2" fill="none" stroke-linejoin="round"/>
<path d="M629.5,412.9 L629.5,428.5" stroke="#983434" stroke-width="1.0" fill="none" stroke-linejoin="round"/>
<path d="M629.5,428.5 L629.5,443.5" stroke="#45a345" stroke-width="1.0" fill="none" stroke-linejoin="round"/>
<text x="612.70" y="333.80" font-size="14.53" fill="#777777" textLength="24.50" lengthAdjust="spacingAndGlyphs">+5V</text>
<text x="0" y="0" transform="translate(616.50,395.00) rotate(-90)" font-size="9.88" fill="#777777" textLength="17.40" lengthAdjust="spacingAndGlyphs">2.2K</text>
<text x="0" y="0" transform="translate(646.50,393.90) rotate(-90)" font-size="14.10" fill="#3a9a9a" textLength="17.50" lengthAdjust="spacingAndGlyphs">R6</text>
<text x="0" y="0" transform="translate(580.20,436.50) rotate(-90)" font-size="14.10" fill="#3a9a9a" textLength="15.00" lengthAdjust="spacingAndGlyphs">C6</text>
<text x="0" y="0" transform="translate(607.70,436.50) rotate(-90)" font-size="9.88" fill="#777777" textLength="18.80" lengthAdjust="spacingAndGlyphs">.1uF</text>
<text x="489.50" y="434.50" font-size="14.53" fill="#45a345" textLength="72.60" lengthAdjust="spacingAndGlyphs">AVR_RESET</text>
<text x="682.80" y="440.70" font-size="13.08" fill="#3a9a9a" textLength="6.00" lengthAdjust="spacingAndGlyphs">6</text>
<text x="750.90" y="440.70" font-size="13.08" fill="#3a9a9a" textLength="6.00" lengthAdjust="spacingAndGlyphs">5</text>
<text x="674.00" y="423.10" font-size="9.88" fill="#777777" textLength="43.90" lengthAdjust="spacingAndGlyphs">74LVC07A</text>
<text x="692.30" y="471.50" font-size="14.10" fill="#3a9a9a" textLength="25.60" lengthAdjust="spacingAndGlyphs">U2C</text>
<text x="553.50" y="501.50" font-size="13.81" fill="#999933" textLength="210.50" lengthAdjust="spacingAndGlyphs">C Program to enable RTS and CTS</text>
<text x="553.50" y="517.20" font-size="13.81" fill="#999933" textLength="337.60" lengthAdjust="spacingAndGlyphs">https://github.com/epccs/RPUpi/tree/master/RPiRtsCts</text>
<path d="M584,653.5 L614,653.5" stroke="#983434" stroke-width="1.0" fill="none" stroke-linejoin="round"/>
<path d="M659.6,629.5 L614.6,653.5 L659.6,677.5 Z" stroke="#983434" stroke-width="3" fill="none" stroke-linejoin="miter" stroke-miterlimit="2"/>
<path d="M645.8000000000001,645.8 L654.5000000000001,654.5 L645.8000000000001,663.2 L637.1,654.5 Z" stroke="#983434" stroke-width="2" fill="none"/>
<path d="M655.8000000000001,644.7 L635.9,644.7" stroke="#983434" stroke-width="2" fill="none" stroke-linejoin="round"/>
<path d="M645.8000000000001,645.8 L645.8000000000001,644.7" stroke="#983434" stroke-width="2" fill="none" stroke-linejoin="round"/>
<path d="M659.6,653.5 L674.5,653.5" stroke="#983434" stroke-width="1.0" fill="none" stroke-linejoin="round"/>
<path d="M674.5,653.5 L704.5,653.5" stroke="#45a345" stroke-width="1.0" fill="none" stroke-linejoin="round"/>
<path d="M584,728.5 L614,728.5" stroke="#983434" stroke-width="1.0" fill="none" stroke-linejoin="round"/>
<path d="M659.6,704.5 L614.6,728.5 L659.6,752.5 Z" stroke="#983434" stroke-width="3" fill="none" stroke-linejoin="miter" stroke-miterlimit="2"/>
<path d="M645.8000000000001,720.8 L654.5000000000001,729.5 L645.8000000000001,738.2 L637.1,729.5 Z" stroke="#983434" stroke-width="2" fill="none"/>
<path d="M655.8000000000001,719.7 L635.9,719.7" stroke="#983434" stroke-width="2" fill="none" stroke-linejoin="round"/>
<path d="M645.8000000000001,720.8 L645.8000000000001,719.7" stroke="#983434" stroke-width="2" fill="none" stroke-linejoin="round"/>
<path d="M659.6,728.5 L674.5,728.5" stroke="#983434" stroke-width="1.0" fill="none" stroke-linejoin="round"/>
<path d="M674.5,728.5 L704.5,728.5" stroke="#45a345" stroke-width="1.0" fill="none" stroke-linejoin="round"/>
<path d="M584,818.5 L614,818.5" stroke="#983434" stroke-width="1.0" fill="none" stroke-linejoin="round"/>
<path d="M659.6,794.5 L614.6,818.5 L659.6,842.5 Z" stroke="#983434" stroke-width="3" fill="none" stroke-linejoin="miter" stroke-miterlimit="2"/>
<path d="M645.8000000000001,810.8 L654.5000000000001,819.5 L645.8000000000001,828.2 L637.1,819.5 Z" stroke="#983434" stroke-width="2" fill="none"/>
<path d="M655.8000000000001,809.7 L635.9,809.7" stroke="#983434" stroke-width="2" fill="none" stroke-linejoin="round"/>
<path d="M645.8000000000001,810.8 L645.8000000000001,809.7" stroke="#983434" stroke-width="2" fill="none" stroke-linejoin="round"/>
<path d="M659.6,818.5 L674.5,818.5" stroke="#983434" stroke-width="1.0" fill="none" stroke-linejoin="round"/>
<path d="M674.5,818.5 L704.5,818.5" stroke="#45a345" stroke-width="1.0" fill="none" stroke-linejoin="round"/>
<path d="M704.5,653.5 L704.5,818.5" stroke="#45a345" stroke-width="1.0" fill="none" stroke-linejoin="round"/>
<path d="M703.15,724.75 L705.85,724.75 L708.25,727.15 L708.25,729.85 L705.85,732.25 L703.15,732.25 L700.75,729.85 L700.75,727.15 Z" fill="#45a345"/>
<path d="M703.15,784.75 L705.85,784.75 L708.25,787.15 L708.25,789.85 L705.85,792.25 L703.15,792.25 L700.75,789.85 L700.75,787.15 Z" fill="#45a345"/>
<path d="M704.5,788.5 L824.5,788.5 L824.5,743.5" stroke="#45a345" stroke-width="1.0" fill="none" stroke-linejoin="round"/>
<path d="M748.15,784.75 L750.85,784.75 L753.25,787.15 L753.25,789.85 L750.85,792.25 L748.15,792.25 L745.75,789.85 L745.75,787.15 Z" fill="#45a345"/>
<path d="M793.15,784.75 L795.85,784.75 L798.25,787.15 L798.25,789.85 L795.85,792.25 L793.15,792.25 L790.75,789.85 L790.75,787.15 Z" fill="#45a345"/>
<path d="M749.5,653.5 L749.5,698.5" stroke="#983434" stroke-width="1.0" fill="none" stroke-linejoin="round"/>
<path d="M749.5,728.5 L749.5,773.5" stroke="#983434" stroke-width="1.0" fill="none" stroke-linejoin="round"/>
<path d="M749.5,773.5 L749.5,788.5" stroke="#45a345" stroke-width="1.0" fill="none" stroke-linejoin="round"/>
<path d="M824.5,653.5 L824.5,698.5" stroke="#45a345" stroke-width="1.0" fill="none" stroke-linejoin="round"/>
<path d="M824.5,698.5 L824.5,713.0" stroke="#983434" stroke-width="1.0" fill="none" stroke-linejoin="round"/>
<path d="M811.5,713.0 L837.5,713.0" stroke="#983434" stroke-width="2.2" fill="none" stroke-linejoin="round"/>
<path d="M811.5,723.5 Q824.5,714.0 837.5,723.5" stroke="#983434" stroke-width="2.2" fill="none"/>
<path d="M824.5,718.0 L824.5,743.5" stroke="#983434" stroke-width="1.0" fill="none" stroke-linejoin="round"/>
<path d="M794.5,788.5 L794.5,803" stroke="#983434" stroke-width="1.0" fill="none" stroke-linejoin="round"/>
<path d="M782.8,803 L806.2,803" stroke="#983434" stroke-width="2.4" fill="none" stroke-linejoin="round"/>
<text x="781.70" y="817.30" font-size="14.10" fill="#777777" textLength="15.00" lengthAdjust="spacingAndGlyphs">0V</text>
<text x="583.50" y="632.80" font-size="9.88" fill="#777777" textLength="44.60" lengthAdjust="spacingAndGlyphs">74LVC07A</text>
<text x="591.50" y="651.10" font-size="13.08" fill="#3a9a9a" textLength="6.00" lengthAdjust="spacingAndGlyphs">8</text>
<text x="661.00" y="651.10" font-size="13.08" fill="#3a9a9a" textLength="6.00" lengthAdjust="spacingAndGlyphs">9</text>
<text x="601.50" y="681.70" font-size="14.10" fill="#3a9a9a" textLength="26.60" lengthAdjust="spacingAndGlyphs">U2D</text>
<text x="583.60" y="708.10" font-size="9.88" fill="#777777" textLength="44.60" lengthAdjust="spacingAndGlyphs">74LVC07A</text>
<text x="586.20" y="725.50" font-size="13.08" fill="#3a9a9a" textLength="13.00" lengthAdjust="spacingAndGlyphs">10</text>
<text x="661.30" y="725.50" font-size="13.08" fill="#3a9a9a" textLength="13.00" lengthAdjust="spacingAndGlyphs">11</text>
<text x="603.60" y="756.20" font-size="14.10" fill="#3a9a9a" textLength="24.60" lengthAdjust="spacingAndGlyphs">U2E</text>
<text x="583.60" y="798.20" font-size="9.88" fill="#777777" textLength="44.60" lengthAdjust="spacingAndGlyphs">74LVC07A</text>
<text x="586.20" y="815.20" font-size="13.08" fill="#3a9a9a" textLength="13.00" lengthAdjust="spacingAndGlyphs">12</text>
<text x="661.30" y="815.20" font-size="13.08" fill="#3a9a9a" textLength="13.00" lengthAdjust="spacingAndGlyphs">13</text>
<text x="603.60" y="846.30" font-size="14.10" fill="#3a9a9a" textLength="24.60" lengthAdjust="spacingAndGlyphs">U2F</text>
<text x="0" y="0" transform="translate(746.00,683.70) rotate(-90)" font-size="13.08" fill="#3a9a9a" textLength="13.40" lengthAdjust="spacingAndGlyphs">14</text>
<text x="0" y="0" transform="translate(761.00,683.00) rotate(-90)" font-size="11.63" fill="#3a9a9a" textLength="20.00" lengthAdjust="spacingAndGlyphs">VCC</text>
<text x="744.60" y="717.50" font-size="14.10" fill="#3a9a9a" textLength="25.20" lengthAdjust="spacingAndGlyphs">U2P</text>
<text x="0" y="0" transform="translate(745.60,748.70) rotate(-90)" font-size="13.08" fill="#3a9a9a" textLength="6.50" lengthAdjust="spacingAndGlyphs">7</text>
<text x="0" y="0" transform="translate(761.00,757.50) rotate(-90)" font-size="11.63" fill="#3a9a9a" textLength="20.00" lengthAdjust="spacingAndGlyphs">GND</text>
<text x="829.30" y="709.00" font-size="14.10" fill="#3a9a9a" textLength="16.70" lengthAdjust="spacingAndGlyphs">C7</text>
<text x="830.80" y="738.00" font-size="9.88" fill="#777777" textLength="18.20" lengthAdjust="spacingAndGlyphs">.1uF</text>
<text x="722.60" y="615.90" font-size="13.81" fill="#999933" textLength="101.50" lengthAdjust="spacingAndGlyphs">IOFF: HI-Z WITH</text>
<text x="722.60" y="631.60" font-size="13.81" fill="#999933" textLength="92.70" lengthAdjust="spacingAndGlyphs">PI POWER OFF</text>
<rect x="224" y="173" width="165" height="404" stroke="#983434" stroke-width="2.3" fill="none"/>
<text x="223.50" y="168.40" font-size="14.10" fill="#3a9a9a" textLength="17.00" lengthAdjust="spacingAndGlyphs">U1</text>
<text x="224.10" y="592.50" font-size="9.88" fill="#777777" textLength="77.40" lengthAdjust="spacingAndGlyphs">ATMEGA328PB-A</text>
<path d="M194.5,188.5 L224,188.5" stroke="#983434" stroke-width="1.0" fill="none" stroke-linejoin="round"/>
<text x="195.10" y="185.70" font-size="13.08" fill="#3a9a9a" textLength="14.20" lengthAdjust="spacingAndGlyphs">18</text>
<text x="236.90" y="192.70" font-size="12.79" fill="#3a9a9a" textLength="29.20" lengthAdjust="spacingAndGlyphs">AVCC</text>
<path d="M194.5,203.5 L224,203.5" stroke="#983434" stroke-width="1.0" fill="none" stroke-linejoin="round"/>
<text x="202.60" y="200.70" font-size="13.08" fill="#3a9a9a" textLength="6.70" lengthAdjust="spacingAndGlyphs">4</text>
<text x="236.90" y="207.70" font-size="12.79" fill="#3a9a9a" textLength="21.70" lengthAdjust="spacingAndGlyphs">VCC</text>
<path d="M194.5,278.5 L212,278.5" stroke="#983434" stroke-width="1.0" fill="none" stroke-linejoin="round"/>
<circle cx="218" cy="278.5" r="5.8" stroke="#983434" stroke-width="1.2" fill="none"/>
<text x="195.10" y="275.70" font-size="13.08" fill="#3a9a9a" textLength="14.20" lengthAdjust="spacingAndGlyphs">29</text>
<text x="236.90" y="282.70" font-size="12.79" fill="#3a9a9a" textLength="36.70" lengthAdjust="spacingAndGlyphs">RESET</text>
<path d="M194.5,338.5 L224,338.5" stroke="#983434" stroke-width="1.0" fill="none" stroke-linejoin="round"/>
<text x="195.10" y="335.70" font-size="13.08" fill="#3a9a9a" textLength="14.20" lengthAdjust="spacingAndGlyphs">20</text>
<text x="236.90" y="342.70" font-size="12.79" fill="#3a9a9a" textLength="29.20" lengthAdjust="spacingAndGlyphs">AREF</text>
<path d="M194.5,383.5 L224,383.5" stroke="#983434" stroke-width="1.0" fill="none" stroke-linejoin="round"/>
<text x="202.60" y="380.70" font-size="13.08" fill="#3a9a9a" textLength="6.70" lengthAdjust="spacingAndGlyphs">7</text>
<text x="236.90" y="387.70" font-size="12.79" fill="#3a9a9a" textLength="36.70" lengthAdjust="spacingAndGlyphs">XTAL1</text>
<path d="M194.5,413.5 L224,413.5" stroke="#983434" stroke-width="1.0" fill="none" stroke-linejoin="round"/>
<text x="202.60" y="410.70" font-size="13.08" fill="#3a9a9a" textLength="6.70" lengthAdjust="spacingAndGlyphs">8</text>
<text x="236.90" y="417.70" font-size="12.79" fill="#3a9a9a" textLength="36.70" lengthAdjust="spacingAndGlyphs">XTAL2</text>
<path d="M194.5,488.5 L224,488.5" stroke="#983434" stroke-width="1.0" fill="none" stroke-linejoin="round"/>
<text x="202.60" y="485.70" font-size="13.08" fill="#3a9a9a" textLength="6.70" lengthAdjust="spacingAndGlyphs">5</text>
<text x="236.90" y="492.70" font-size="12.79" fill="#3a9a9a" textLength="14.20" lengthAdjust="spacingAndGlyphs">0V</text>
<path d="M194.5,503.5 L224,503.5" stroke="#983434" stroke-width="1.0" fill="none" stroke-linejoin="round"/>
<text x="195.10" y="500.70" font-size="13.08" fill="#3a9a9a" textLength="14.20" lengthAdjust="spacingAndGlyphs">21</text>
<text x="236.90" y="507.70" font-size="12.79" fill="#3a9a9a" textLength="14.20" lengthAdjust="spacingAndGlyphs">0V</text>
<path d="M194.5,548.5 L224,548.5" stroke="#983434" stroke-width="1.0" fill="none" stroke-linejoin="round"/>
<text x="202.60" y="545.70" font-size="13.08" fill="#3a9a9a" textLength="6.70" lengthAdjust="spacingAndGlyphs">3</text>
<text x="236.90" y="552.70" font-size="12.79" fill="#3a9a9a" textLength="93.28" lengthAdjust="spacingAndGlyphs">PE0(SDA1/ICP4)</text>
<path d="M194.5,563.5 L224,563.5" stroke="#983434" stroke-width="1.0" fill="none" stroke-linejoin="round"/>
<text x="202.60" y="560.70" font-size="13.08" fill="#3a9a9a" textLength="6.70" lengthAdjust="spacingAndGlyphs">6</text>
<text x="236.90" y="567.70" font-size="12.79" fill="#3a9a9a" textLength="78.28" lengthAdjust="spacingAndGlyphs">PE1(SCL1/T4)</text>
<path d="M389,188.5 L419.5,188.5" stroke="#983434" stroke-width="1.0" fill="none" stroke-linejoin="round"/>
<text x="401.00" y="185.70" font-size="13.08" fill="#3a9a9a" textLength="14.20" lengthAdjust="spacingAndGlyphs">23</text>
<text x="288.42" y="192.70" font-size="12.79" fill="#3a9a9a" textLength="85.78" lengthAdjust="spacingAndGlyphs">(A0/MISO1)PC0</text>
<path d="M389,203.5 L419.5,203.5" stroke="#983434" stroke-width="1.0" fill="none" stroke-linejoin="round"/>
<text x="401.00" y="200.70" font-size="13.08" fill="#3a9a9a" textLength="14.20" lengthAdjust="spacingAndGlyphs">24</text>
<text x="295.92" y="207.70" font-size="12.79" fill="#3a9a9a" textLength="78.28" lengthAdjust="spacingAndGlyphs">(A1/SCK1)PC1</text>
<path d="M389,218.5 L419.5,218.5" stroke="#983434" stroke-width="1.0" fill="none" stroke-linejoin="round"/>
<text x="401.00" y="215.70" font-size="13.08" fill="#3a9a9a" textLength="14.20" lengthAdjust="spacingAndGlyphs">25</text>
<text x="329.78" y="222.70" font-size="12.79" fill="#3a9a9a" textLength="44.42" lengthAdjust="spacingAndGlyphs">(A2)PC2</text>
<path d="M389,233.5 L419.5,233.5" stroke="#983434" stroke-width="1.0" fill="none" stroke-linejoin="round"/>
<text x="401.00" y="230.70" font-size="13.08" fill="#3a9a9a" textLength="14.20" lengthAdjust="spacingAndGlyphs">26</text>
<text x="329.78" y="237.70" font-size="12.79" fill="#3a9a9a" textLength="44.42" lengthAdjust="spacingAndGlyphs">(A3)PC3</text>
<path d="M389,248.5 L419.5,248.5" stroke="#983434" stroke-width="1.0" fill="none" stroke-linejoin="round"/>
<text x="401.00" y="245.70" font-size="13.08" fill="#3a9a9a" textLength="14.20" lengthAdjust="spacingAndGlyphs">27</text>
<text x="295.92" y="252.70" font-size="12.79" fill="#3a9a9a" textLength="78.28" lengthAdjust="spacingAndGlyphs">(A4/SDA0)PC4</text>
<path d="M389,263.5 L419.5,263.5" stroke="#983434" stroke-width="1.0" fill="none" stroke-linejoin="round"/>
<text x="401.00" y="260.70" font-size="13.08" fill="#3a9a9a" textLength="14.20" lengthAdjust="spacingAndGlyphs">28</text>
<text x="295.92" y="267.70" font-size="12.79" fill="#3a9a9a" textLength="78.28" lengthAdjust="spacingAndGlyphs">(A5/SCL0)PC5</text>
<path d="M389,278.5 L419.5,278.5" stroke="#983434" stroke-width="1.0" fill="none" stroke-linejoin="round"/>
<text x="401.00" y="275.70" font-size="13.08" fill="#3a9a9a" textLength="14.20" lengthAdjust="spacingAndGlyphs">19</text>
<text x="288.42" y="282.70" font-size="12.79" fill="#3a9a9a" textLength="85.78" lengthAdjust="spacingAndGlyphs">(ICP3/SS1)PE2</text>
<path d="M389,293.5 L419.5,293.5" stroke="#983434" stroke-width="1.0" fill="none" stroke-linejoin="round"/>
<text x="401.00" y="290.70" font-size="13.08" fill="#3a9a9a" textLength="14.20" lengthAdjust="spacingAndGlyphs">22</text>
<text x="269.56" y="297.70" font-size="12.79" fill="#3a9a9a" textLength="104.64" lengthAdjust="spacingAndGlyphs">(A7/T3/MOSI1)PE3</text>
<path d="M389,323.5 L419.5,323.5" stroke="#983434" stroke-width="1.0" fill="none" stroke-linejoin="round"/>
<text x="401.00" y="320.70" font-size="13.08" fill="#3a9a9a" textLength="14.20" lengthAdjust="spacingAndGlyphs">30</text>
<text x="322.28" y="327.70" font-size="12.79" fill="#3a9a9a" textLength="51.92" lengthAdjust="spacingAndGlyphs">(RXD)PD0</text>
<path d="M389,338.5 L419.5,338.5" stroke="#983434" stroke-width="1.0" fill="none" stroke-linejoin="round"/>
<text x="401.00" y="335.70" font-size="13.08" fill="#3a9a9a" textLength="14.20" lengthAdjust="spacingAndGlyphs">31</text>
<text x="322.28" y="342.70" font-size="12.79" fill="#3a9a9a" textLength="51.92" lengthAdjust="spacingAndGlyphs">(TXD)PD1</text>
<path d="M389,353.5 L419.5,353.5" stroke="#983434" stroke-width="1.0" fill="none" stroke-linejoin="round"/>
<text x="401.00" y="350.70" font-size="13.08" fill="#3a9a9a" textLength="14.20" lengthAdjust="spacingAndGlyphs">32</text>
<text x="280.92" y="357.70" font-size="12.79" fill="#3a9a9a" textLength="93.28" lengthAdjust="spacingAndGlyphs">(INT0/OC3B)PD2</text>
<path d="M389,368.5 L419.5,368.5" stroke="#983434" stroke-width="1.0" fill="none" stroke-linejoin="round"/>
<text x="408.50" y="365.70" font-size="13.08" fill="#3a9a9a" textLength="6.70" lengthAdjust="spacingAndGlyphs">1</text>
<text x="280.92" y="372.70" font-size="12.79" fill="#3a9a9a" textLength="93.28" lengthAdjust="spacingAndGlyphs">(INT1/OC2B)PD3</text>
<path d="M389,383.5 L419.5,383.5" stroke="#983434" stroke-width="1.0" fill="none" stroke-linejoin="round"/>
<text x="408.50" y="380.70" font-size="13.08" fill="#3a9a9a" textLength="6.70" lengthAdjust="spacingAndGlyphs">2</text>
<text x="329.78" y="387.70" font-size="12.79" fill="#3a9a9a" textLength="44.42" lengthAdjust="spacingAndGlyphs">(T0)PD4</text>
<path d="M389,398.5 L419.5,398.5" stroke="#983434" stroke-width="1.0" fill="none" stroke-linejoin="round"/>
<text x="408.50" y="395.70" font-size="13.08" fill="#3a9a9a" textLength="6.70" lengthAdjust="spacingAndGlyphs">9</text>
<text x="295.92" y="402.70" font-size="12.79" fill="#3a9a9a" textLength="78.28" lengthAdjust="spacingAndGlyphs">(T1/OC0B)PD5</text>
<path d="M389,413.5 L419.5,413.5" stroke="#983434" stroke-width="1.0" fill="none" stroke-linejoin="round"/>
<text x="401.00" y="410.70" font-size="13.08" fill="#3a9a9a" textLength="14.20" lengthAdjust="spacingAndGlyphs">10</text>
<text x="314.78" y="417.70" font-size="12.79" fill="#3a9a9a" textLength="59.42" lengthAdjust="spacingAndGlyphs">(OC0A)PD6</text>
<path d="M389,428.5 L419.5,428.5" stroke="#983434" stroke-width="1.0" fill="none" stroke-linejoin="round"/>
<text x="401.00" y="425.70" font-size="13.08" fill="#3a9a9a" textLength="14.20" lengthAdjust="spacingAndGlyphs">11</text>
<text x="352.50" y="432.70" font-size="12.79" fill="#3a9a9a" textLength="21.70" lengthAdjust="spacingAndGlyphs">PD7</text>
<path d="M389,458.5 L419.5,458.5" stroke="#983434" stroke-width="1.0" fill="none" stroke-linejoin="round"/>
<text x="401.00" y="455.70" font-size="13.08" fill="#3a9a9a" textLength="14.20" lengthAdjust="spacingAndGlyphs">12</text>
<text x="314.78" y="462.70" font-size="12.79" fill="#3a9a9a" textLength="59.42" lengthAdjust="spacingAndGlyphs">(ICP1)PB0</text>
<path d="M389,473.5 L419.5,473.5" stroke="#983434" stroke-width="1.0" fill="none" stroke-linejoin="round"/>
<text x="401.00" y="470.70" font-size="13.08" fill="#3a9a9a" textLength="14.20" lengthAdjust="spacingAndGlyphs">13</text>
<text x="314.78" y="477.70" font-size="12.79" fill="#3a9a9a" textLength="59.42" lengthAdjust="spacingAndGlyphs">(OC1A)PB1</text>
<path d="M389,488.5 L419.5,488.5" stroke="#983434" stroke-width="1.0" fill="none" stroke-linejoin="round"/>
<text x="401.00" y="485.70" font-size="13.08" fill="#3a9a9a" textLength="14.20" lengthAdjust="spacingAndGlyphs">14</text>
<text x="295.92" y="492.70" font-size="12.79" fill="#3a9a9a" textLength="78.28" lengthAdjust="spacingAndGlyphs">(SS/OC1B)PB2</text>
<path d="M389,503.5 L419.5,503.5" stroke="#983434" stroke-width="1.0" fill="none" stroke-linejoin="round"/>
<text x="401.00" y="500.70" font-size="13.08" fill="#3a9a9a" textLength="14.20" lengthAdjust="spacingAndGlyphs">15</text>
<text x="288.42" y="507.70" font-size="12.79" fill="#3a9a9a" textLength="85.78" lengthAdjust="spacingAndGlyphs">(MOSI/TX1)PB3</text>
<path d="M389,518.5 L419.5,518.5" stroke="#983434" stroke-width="1.0" fill="none" stroke-linejoin="round"/>
<text x="401.00" y="515.70" font-size="13.08" fill="#3a9a9a" textLength="14.20" lengthAdjust="spacingAndGlyphs">16</text>
<text x="288.42" y="522.70" font-size="12.79" fill="#3a9a9a" textLength="85.78" lengthAdjust="spacingAndGlyphs">(MISO/RX1)PB4</text>
<path d="M389,533.5 L419.5,533.5" stroke="#983434" stroke-width="1.0" fill="none" stroke-linejoin="round"/>
<text x="401.00" y="530.70" font-size="13.08" fill="#3a9a9a" textLength="14.20" lengthAdjust="spacingAndGlyphs">17</text>
<text x="322.28" y="537.70" font-size="12.79" fill="#3a9a9a" textLength="51.92" lengthAdjust="spacingAndGlyphs">(SCK)PB5</text>
<path d="M194.5,188.5 L164.5,158.5 L14.5,158.5 L14.5,263.5" stroke="#45a345" stroke-width="1.0" fill="none" stroke-linejoin="round"/>
<path d="M59.5,188.5 L194.5,188.5" stroke="#45a345" stroke-width="1.0" fill="none" stroke-linejoin="round"/>
<path d="M193.15,184.75 L195.85,184.75 L198.25,187.15 L198.25,189.85 L195.85,192.25 L193.15,192.25 L190.75,189.85 L190.75,187.15 Z" fill="#45a345"/>
<path d="M58.15,184.75 L60.85,184.75 L63.25,187.15 L63.25,189.85 L60.85,192.25 L58.15,192.25 L55.75,189.85 L55.75,187.15 Z" fill="#45a345"/>
<path d="M51.5,184.9 L59.5,172.4 L67.5,184.9" stroke="#983434" stroke-width="2.2" fill="none" stroke-linejoin="round"/>
<path d="M59.5,172.4 L59.5,184.9" stroke="#983434" stroke-width="1.2" fill="none" stroke-linejoin="round"/>
<text x="43.00" y="169.80" font-size="14.53" fill="#777777" textLength="24.00" lengthAdjust="spacingAndGlyphs">+5V</text>
<path d="M59.5,185 L59.5,233.5" stroke="#45a345" stroke-width="1.0" fill="none" stroke-linejoin="round"/>
<path d="M59.5,203.5 L194.5,203.5" stroke="#45a345" stroke-width="1.0" fill="none" stroke-linejoin="round"/>
<path d="M58.15,199.75 L60.85,199.75 L63.25,202.15 L63.25,204.85 L60.85,207.25 L58.15,207.25 L55.75,204.85 L55.75,202.15 Z" fill="#45a345"/>
<path d="M133.15,199.75 L135.85,199.75 L138.25,202.15 L138.25,204.85 L135.85,207.25 L133.15,207.25 L130.75,204.85 L130.75,202.15 Z" fill="#45a345"/>
<path d="M178.15,199.75 L180.85,199.75 L183.25,202.15 L183.25,204.85 L180.85,207.25 L178.15,207.25 L175.75,204.85 L175.75,202.15 Z" fill="#45a345"/>
<path d="M59.5,233.5 L59.5,248.0" stroke="#983434" stroke-width="1.0" fill="none" stroke-linejoin="round"/>
<path d="M46.5,248.0 L72.5,248.0" stroke="#983434" stroke-width="2.2" fill="none" stroke-linejoin="round"/>
<path d="M46.5,258.5 Q59.5,249.0 72.5,258.5" stroke="#983434" stroke-width="2.2" fill="none"/>
<path d="M59.5,253.0 L59.5,278.5" stroke="#983434" stroke-width="1.0" fill="none" stroke-linejoin="round"/>
<path d="M59.5,278.5 L59.5,488.5 L89.5,488.5" stroke="#45a345" stroke-width="1.0" fill="none" stroke-linejoin="round"/>
<path d="M134.5,203.5 L134.5,232.3" stroke="#45a345" stroke-width="1.0" fill="none" stroke-linejoin="round"/>
<path d="M134.5,232.3 L134.5,263.5" stroke="#983434" stroke-width="2" fill="none" stroke-linejoin="round"/>
<path d="M126,240.8 L143,240.8" stroke="#983434" stroke-width="2.2" fill="none" stroke-linejoin="round"/>
<path d="M134.5,240.8 L126.8,253.7 L142.2,253.7 Z" stroke="#983434" stroke-width="1.8" fill="none" stroke-linejoin="miter" stroke-miterlimit="2"/>
<path d="M143,240.8 L143,238.5 M126,240.8 L126,243" stroke="#983434" stroke-width="1" fill="none"/>
<path d="M134.5,263.5 L134.5,278.5 L179.5,278.5" stroke="#45a345" stroke-width="1.0" fill="none" stroke-linejoin="round"/>
<path d="M179.5,203.5 L179.5,217.5" stroke="#983434" stroke-width="1.0" fill="none" stroke-linejoin="round"/>
<path d="M179.5,217.25 L173.0,219.75 L185.5,223.65 L173.0,227.65 L185.5,231.55 L173.0,234.75 L185.5,238.65 L173.0,242.75 L185.5,246.65 L179.5,247.85" stroke="#983434" stroke-width="2" fill="none" stroke-linejoin="round"/>
<path d="M179.5,247.9 L179.5,263.5" stroke="#983434" stroke-width="1.0" fill="none" stroke-linejoin="round"/>
<path d="M179.5,263.5 L179.5,308.5 L44.5,308.5 L44.5,638.5 L194.5,638.5" stroke="#45a345" stroke-width="1.0" fill="none" stroke-linejoin="round"/>
<path d="M178.15,274.75 L180.85,274.75 L183.25,277.15 L183.25,279.85 L180.85,282.25 L178.15,282.25 L175.75,279.85 L175.75,277.15 Z" fill="#45a345"/>
<path d="M179.5,278.5 L194.5,278.5" stroke="#45a345" stroke-width="1.0" fill="none" stroke-linejoin="round"/>
<path d="M14.5,263.5 L14.5,278.0" stroke="#983434" stroke-width="1.0" fill="none" stroke-linejoin="round"/>
<path d="M1.5,278.0 L27.5,278.0" stroke="#983434" stroke-width="2.2" fill="none" stroke-linejoin="round"/>
<path d="M1.5,288.5 Q14.5,279.0 27.5,288.5" stroke="#983434" stroke-width="2.2" fill="none"/>
<path d="M14.5,283.0 L14.5,308.5" stroke="#983434" stroke-width="1.0" fill="none" stroke-linejoin="round"/>
<path d="M14.5,308.5 L14.5,503.5 L74.5,503.5 L89.5,488.5" stroke="#45a345" stroke-width="1.0" fill="none" stroke-linejoin="round"/>
<path d="M194.5,338.5 L74.5,338.5 L74.5,383.5" stroke="#45a345" stroke-width="1.0" fill="none" stroke-linejoin="round"/>
<path d="M74.5,383.5 L74.5,398.0" stroke="#983434" stroke-width="1.0" fill="none" stroke-linejoin="round"/>
<path d="M61.5,398.0 L87.5,398.0" stroke="#983434" stroke-width="2.2" fill="none" stroke-linejoin="round"/>
<path d="M61.5,408.5 Q74.5,399.0 87.5,408.5" stroke="#983434" stroke-width="2.2" fill="none"/>
<path d="M74.5,403.0 L74.5,428.5" stroke="#983434" stroke-width="1.0" fill="none" stroke-linejoin="round"/>
<path d="M74.5,428.5 L74.5,473.5 L89.5,488.5" stroke="#45a345" stroke-width="1.0" fill="none" stroke-linejoin="round"/>
<path d="M104.5,413.5 L104.5,368.5 L179.5,368.5 L194.5,383.5" stroke="#45a345" stroke-width="1.0" fill="none" stroke-linejoin="round"/>
<path d="M163.15,364.75 L165.85,364.75 L168.25,367.15 L168.25,369.85 L165.85,372.25 L163.15,372.25 L160.75,369.85 L160.75,367.15 Z" fill="#45a345"/>
<path d="M104.5,413.5 L104.5,428.0" stroke="#983434" stroke-width="1.0" fill="none" stroke-linejoin="round"/>
<path d="M91.5,428.0 L117.5,428.0" stroke="#983434" stroke-width="2.2" fill="none" stroke-linejoin="round"/>
<path d="M91.5,438.5 Q104.5,429.0 117.5,438.5" stroke="#983434" stroke-width="2.2" fill="none"/>
<path d="M104.5,433.0 L104.5,458.5" stroke="#983434" stroke-width="1.0" fill="none" stroke-linejoin="round"/>
<path d="M104.5,458.5 L89.5,473.5 L89.5,488.5" stroke="#45a345" stroke-width="1.0" fill="none" stroke-linejoin="round"/>
<path d="M164.5,368.5 L164.5,383.5" stroke="#45a345" stroke-width="1.0" fill="none" stroke-linejoin="round"/>
<path d="M164.5,383.5 L164.5,392" stroke="#983434" stroke-width="1.0" fill="none" stroke-linejoin="round"/>
<path d="M153,392 L176,392" stroke="#983434" stroke-width="2.2" fill="none" stroke-linejoin="round"/>
<rect x="155" y="396" width="18.5" height="4.2" stroke="#983434" stroke-width="2" fill="none"/>
<path d="M153,404 L176,404" stroke="#983434" stroke-width="2.2" fill="none" stroke-linejoin="round"/>
<path d="M164.5,404 L164.5,413.5" stroke="#983434" stroke-width="1.0" fill="none" stroke-linejoin="round"/>
<path d="M163.15,409.75 L165.85,409.75 L168.25,412.15 L168.25,414.85 L165.85,417.25 L163.15,417.25 L160.75,414.85 L160.75,412.15 Z" fill="#45a345"/>
<path d="M164.5,413.5 L194.5,413.5" stroke="#45a345" stroke-width="1.0" fill="none" stroke-linejoin="round"/>
<path d="M164.5,413.5 L164.5,428.5" stroke="#45a345" stroke-width="1.0" fill="none" stroke-linejoin="round"/>
<path d="M164.5,428.5 L164.5,443.0" stroke="#983434" stroke-width="1.0" fill="none" stroke-linejoin="round"/>
<path d="M151.5,443.0 L177.5,443.0" stroke="#983434" stroke-width="2.2" fill="none" stroke-linejoin="round"/>
<path d="M151.5,453.5 Q164.5,444.0 177.5,453.5" stroke="#983434" stroke-width="2.2" fill="none"/>
<path d="M164.5,448.0 L164.5,473.5" stroke="#983434" stroke-width="1.0" fill="none" stroke-linejoin="round"/>
<path d="M164.5,473.5 L104.5,473.5 L89.5,488.5" stroke="#45a345" stroke-width="1.0" fill="none" stroke-linejoin="round"/>
<path d="M88.15,484.75 L90.85,484.75 L93.25,487.15 L93.25,489.85 L90.85,492.25 L88.15,492.25 L85.75,489.85 L85.75,487.15 Z" fill="#45a345"/>
<path d="M89.5,488.5 L194.5,488.5" stroke="#45a345" stroke-width="1.0" fill="none" stroke-linejoin="round"/>
<path d="M89.5,488.5 L104.5,503.5 L194.5,503.5" stroke="#45a345" stroke-width="1.0" fill="none" stroke-linejoin="round"/>
<path d="M89.5,488.5 L89.5,503.5" stroke="#45a345" stroke-width="1.0" fill="none" stroke-linejoin="round"/>
<path d="M89.5,503.5 L89.5,518" stroke="#983434" stroke-width="1.0" fill="none" stroke-linejoin="round"/>
<path d="M77.8,518 L101.2,518" stroke="#983434" stroke-width="2.4" fill="none" stroke-linejoin="round"/>
<text x="77.00" y="532.40" font-size="14.10" fill="#777777" textLength="15.00" lengthAdjust="spacingAndGlyphs">0V</text>
<text x="19.70" y="274.30" font-size="14.10" fill="#3a9a9a" textLength="16.10" lengthAdjust="spacingAndGlyphs">C1</text>
<text x="20.60" y="302.30" font-size="9.88" fill="#777777" textLength="18.90" lengthAdjust="spacingAndGlyphs">.1uF</text>
<text x="64.40" y="243.90" font-size="14.10" fill="#3a9a9a" textLength="17.00" lengthAdjust="spacingAndGlyphs">C2</text>
<text x="65.30" y="273.40" font-size="9.88" fill="#777777" textLength="18.70" lengthAdjust="spacingAndGlyphs">.1uF</text>
<text x="113.50" y="241.20" font-size="9.88" fill="#777777" textLength="11.70" lengthAdjust="spacingAndGlyphs">T4</text>
<text x="106.80" y="259.40" font-size="14.10" fill="#3a9a9a" textLength="16.60" lengthAdjust="spacingAndGlyphs">D1</text>
<text x="0" y="0" transform="translate(170.00,255.50) rotate(-90)" font-size="14.10" fill="#3a9a9a" textLength="15.50" lengthAdjust="spacingAndGlyphs">R1</text>
<text x="0" y="0" transform="translate(198.00,255.30) rotate(-90)" font-size="10.17" fill="#777777" textLength="14.50" lengthAdjust="spacingAndGlyphs">10K</text>
<text x="114.00" y="304.00" font-size="10.17" fill="#45a345" textLength="54.60" lengthAdjust="spacingAndGlyphs">AVR_RESET</text>
<text x="80.10" y="393.70" font-size="14.10" fill="#3a9a9a" textLength="16.50" lengthAdjust="spacingAndGlyphs">C3</text>
<text x="80.60" y="422.40" font-size="9.88" fill="#777777" textLength="19.40" lengthAdjust="spacingAndGlyphs">.1uF</text>
<text x="110.00" y="423.30" font-size="14.10" fill="#3a9a9a" textLength="16.40" lengthAdjust="spacingAndGlyphs">C4</text>
<text x="109.40" y="452.90" font-size="9.88" fill="#777777" textLength="21.90" lengthAdjust="spacingAndGlyphs">22pF</text>
<text x="169.50" y="438.00" font-size="14.10" fill="#3a9a9a" textLength="16.90" lengthAdjust="spacingAndGlyphs">C5</text>
<text x="169.50" y="467.70" font-size="9.88" fill="#777777" textLength="21.70" lengthAdjust="spacingAndGlyphs">22pF</text>
<text x="0" y="0" transform="translate(187.20,399.40) rotate(-90)" font-size="14.10" fill="#3a9a9a" textLength="15.60" lengthAdjust="spacingAndGlyphs">Y1</text>
<text x="0" y="0" transform="translate(149.00,411.00) rotate(-90)" font-size="9.88" fill="#777777" textLength="27.20" lengthAdjust="spacingAndGlyphs">16MHz</text>
<path d="M125.9,541 L172.4,541 L179.3,548.5 L172.4,555.5 L125.9,555.5 Z" stroke="#45a345" stroke-width="2.5" fill="none" stroke-linejoin="miter"/>
<path d="M125.9,555.5 L172.4,555.5 L179.3,563.5 L172.4,570.5 L125.9,570.5 Z" stroke="#45a345" stroke-width="2.5" fill="none" stroke-linejoin="miter"/>
<text x="133.80" y="551.50" font-size="10.17" fill="#45a345" textLength="36.20" lengthAdjust="spacingAndGlyphs">0V_328P</text>
<text x="133.80" y="566.50" font-size="10.17" fill="#45a345" textLength="36.20" lengthAdjust="spacingAndGlyphs">5V_328P</text>
<path d="M179.3,548.5 L194.5,548.5" stroke="#45a345" stroke-width="1.0" fill="none" stroke-linejoin="round"/>
<path d="M179.3,563.5 L194.5,563.5" stroke="#45a345" stroke-width="1.0" fill="none" stroke-linejoin="round"/>
<path d="M156.7,531.3 L156.7,538.7 M153.5,533.2 L159.9,536.8 M153.5,536.8 L159.9,533.2" stroke="#999933" stroke-width="1" fill="none"/>
<text x="134.80" y="612.00" font-size="14.53" fill="#999933" textLength="163.50" lengthAdjust="spacingAndGlyphs">* 328PB-A PINOUT IS NOT</text>
<text x="134.80" y="628.00" font-size="14.53" fill="#999933" textLength="102.30" lengthAdjust="spacingAndGlyphs">SAME AS 328P-A</text>
<text x="33.90" y="660.90" font-size="14.53" fill="#999933" textLength="107.70" lengthAdjust="spacingAndGlyphs">16MHZ CRYSTAL:</text>
<text x="32.20" y="677.00" font-size="14.53" fill="#999933" textLength="117.60" lengthAdjust="spacingAndGlyphs">ECS-160-20-3X-TR</text>
<text x="442.00" y="316.00" font-size="14.53" fill="#999933" textLength="7.00" lengthAdjust="spacingAndGlyphs">0</text>
<text x="442.00" y="352.00" font-size="14.53" fill="#999933" textLength="6.50" lengthAdjust="spacingAndGlyphs">1</text>
<path d="M419.5,503.5 L494.5,503.5 L494.5,758.5 L404.5,758.5" stroke="#45a345" stroke-width="1.0" fill="none" stroke-linejoin="round"/>
<path d="M419.5,518.5 L479.5,518.5 L479.5,683.5 L254.5,683.5 L254.5,743.5 L269.5,743.5" stroke="#45a345" stroke-width="1.0" fill="none" stroke-linejoin="round"/>
<path d="M419.5,533.5 L464.5,533.5 L464.5,668.5 L239.5,668.5 L239.5,758.5 L269.5,758.5" stroke="#45a345" stroke-width="1.0" fill="none" stroke-linejoin="round"/>
<path d="M194.5,638.5 L194.5,773.5 L269.5,773.5" stroke="#45a345" stroke-width="1.0" fill="none" stroke-linejoin="round"/>
<path d="M193.15,634.75 L195.85,634.75 L198.25,637.15 L198.25,639.85 L195.85,642.25 L193.15,642.25 L190.75,639.85 L190.75,637.15 Z" fill="#45a345"/>
<text x="445.00" y="499.50" font-size="14.10" fill="#999933" textLength="14.00" lengthAdjust="spacingAndGlyphs">11</text>
<text x="466.90" y="499.00" font-size="10.17" fill="#45a345" textLength="49.00" lengthAdjust="spacingAndGlyphs">AVR_MOSI</text>
<text x="431.00" y="514.20" font-size="10.17" fill="#45a345" textLength="49.40" lengthAdjust="spacingAndGlyphs">AVR_MISO</text>
<text x="444.30" y="546.40" font-size="14.10" fill="#999933" textLength="14.20" lengthAdjust="spacingAndGlyphs">13</text>
<text x="296.60" y="633.50" font-size="10.17" fill="#45a345" textLength="54.90" lengthAdjust="spacingAndGlyphs">AVR_RESET</text>
<text x="400.80" y="662.50" font-size="10.17" fill="#45a345" textLength="42.50" lengthAdjust="spacingAndGlyphs">AVR_SCK</text>
<rect x="295" y="728.5" width="85" height="60.2" stroke="#983434" stroke-width="2.3" fill="none"/>
<path d="M269.5,743.5 L295,743.5" stroke="#983434" stroke-width="1.0" fill="none" stroke-linejoin="round"/>
<path d="M380,743.5 L404.5,743.5" stroke="#983434" stroke-width="1.0" fill="none" stroke-linejoin="round"/>
<text x="274.40" y="740.40" font-size="13.08" fill="#3a9a9a" textLength="6.00" lengthAdjust="spacingAndGlyphs">1</text>
<text x="390.30" y="740.40" font-size="13.08" fill="#3a9a9a" textLength="6.00" lengthAdjust="spacingAndGlyphs">2</text>
<text x="297.00" y="746.20" font-size="13.08" fill="#3a9a9a" textLength="29.20" lengthAdjust="spacingAndGlyphs">MISO</text>
<text x="352.50" y="746.20" font-size="13.08" fill="#3a9a9a" textLength="21.70" lengthAdjust="spacingAndGlyphs">VCC</text>
<path d="M269.5,758.5 L295,758.5" stroke="#983434" stroke-width="1.0" fill="none" stroke-linejoin="round"/>
<path d="M380,758.5 L404.5,758.5" stroke="#983434" stroke-width="1.0" fill="none" stroke-linejoin="round"/>
<text x="274.40" y="755.40" font-size="13.08" fill="#3a9a9a" textLength="6.00" lengthAdjust="spacingAndGlyphs">3</text>
<text x="390.30" y="755.40" font-size="13.08" fill="#3a9a9a" textLength="6.00" lengthAdjust="spacingAndGlyphs">4</text>
<text x="297.00" y="761.20" font-size="13.08" fill="#3a9a9a" textLength="21.70" lengthAdjust="spacingAndGlyphs">SCK</text>
<text x="345.00" y="761.20" font-size="13.08" fill="#3a9a9a" textLength="29.20" lengthAdjust="spacingAndGlyphs">MOSI</text>
<path d="M269.5,773.5 L295,773.5" stroke="#983434" stroke-width="1.0" fill="none" stroke-linejoin="round"/>
<path d="M380,773.5 L404.5,773.5" stroke="#983434" stroke-width="1.0" fill="none" stroke-linejoin="round"/>
<text x="274.40" y="770.40" font-size="13.08" fill="#3a9a9a" textLength="6.00" lengthAdjust="spacingAndGlyphs">5</text>
<text x="390.30" y="770.40" font-size="13.08" fill="#3a9a9a" textLength="6.00" lengthAdjust="spacingAndGlyphs">6</text>
<text x="297.00" y="776.20" font-size="13.08" fill="#3a9a9a" textLength="36.70" lengthAdjust="spacingAndGlyphs">RESET</text>
<text x="352.50" y="776.20" font-size="13.08" fill="#3a9a9a" textLength="21.70" lengthAdjust="spacingAndGlyphs">GND</text>
<path d="M404.5,743.5 L419.5,743.5 L419.5,728.6" stroke="#45a345" stroke-width="1.0" fill="none" stroke-linejoin="round"/>
<path d="M419.5,728.6 L419.5,724" stroke="#983434" stroke-width="1.0" fill="none" stroke-linejoin="round"/>
<path d="M411.3,725.0 L419.3,712.5 L427.3,725.0" stroke="#983434" stroke-width="2.2" fill="none" stroke-linejoin="round"/>
<path d="M419.3,712.5 L419.3,725.0" stroke="#983434" stroke-width="1.2" fill="none" stroke-linejoin="round"/>
<path d="M404.5,773.5 L419.5,773.5 L419.5,788.7" stroke="#45a345" stroke-width="1.0" fill="none" stroke-linejoin="round"/>
<path d="M419.5,788.7 L419.5,802.7" stroke="#983434" stroke-width="1.0" fill="none" stroke-linejoin="round"/>
<path d="M407.8,802.7 L431.2,802.7" stroke="#983434" stroke-width="2.4" fill="none" stroke-linejoin="round"/>
<text x="407.00" y="817.70" font-size="14.10" fill="#777777" textLength="15.50" lengthAdjust="spacingAndGlyphs">0V</text>
<text x="407.90" y="709.30" font-size="14.53" fill="#777777" textLength="32.40" lengthAdjust="spacingAndGlyphs">+3V3</text>
<text x="334.90" y="713.60" font-size="14.53" fill="#999933" textLength="18.90" lengthAdjust="spacingAndGlyphs">ISP</text>
<text x="303.40" y="722.20" font-size="14.10" fill="#3a9a9a" textLength="12.90" lengthAdjust="spacingAndGlyphs">J9</text>
</svg></body></html>
